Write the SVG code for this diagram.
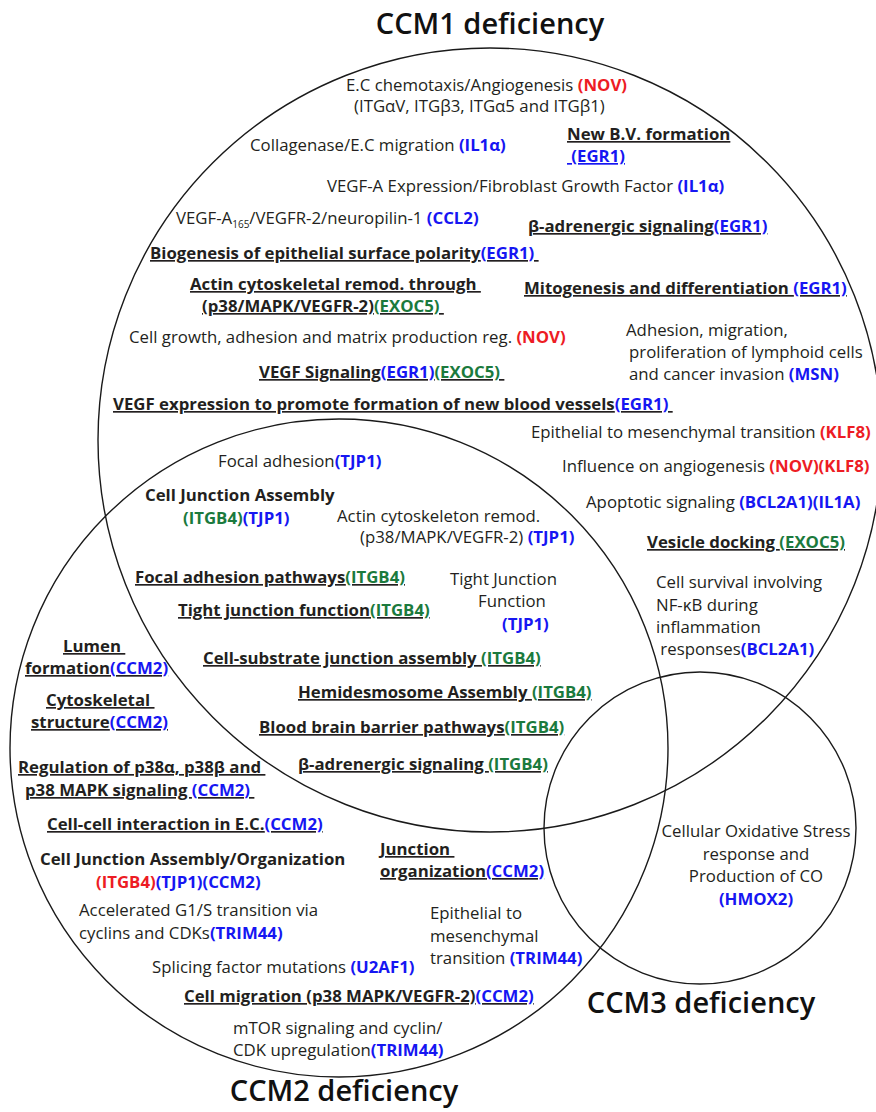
<svg xmlns="http://www.w3.org/2000/svg" width="876" height="1112" viewBox="0 0 876 1112">
  <style>
    .set { fill: none; stroke: #1a1a1a; stroke-width: 1.4; }
    .t { font-family: "Open Sans", "Liberation Sans", sans-serif; font-size: 16.8px; fill: #231f20; white-space: pre; }
    .h { font-family: "Open Sans", "Liberation Sans", sans-serif; font-size: 29px; font-weight: 600; fill: #111; text-anchor: middle; }
    .b { font-weight: 700; }
    .u { text-decoration: underline; }
    .bl { fill: #1616f2; }
    .rd { fill: #ed1c24; }
    .gr { fill: #1b7a3d; }
  </style>
  <rect width="876" height="1112" fill="#ffffff"/>

  <!-- Set outlines -->
  <g id="ccm1-set">
    <circle class="set" cx="490" cy="440" r="392"/>
    <text class="h" x="490" y="34">CCM1 deficiency</text>
  </g>
  <g id="ccm2-set">
    <circle class="set" cx="339" cy="748" r="329"/>
    <text class="h" x="344" y="1101">CCM2 deficiency</text>
  </g>
  <g id="ccm3-set">
    <circle class="set" cx="700" cy="828" r="156"/>
    <text class="h" x="701" y="1013">CCM3 deficiency</text>
  </g>

  <!-- CCM1 only -->
  <g id="ccm1-only">
    <text class="t" x="346" y="91">E.C chemotaxis/Angiogenesis <tspan class="b rd">(NOV)</tspan></text>
    <text class="t" x="354" y="112">(ITGαV, ITGβ3, ITGα5 and ITGβ1)</text>
    <text class="t" x="250" y="151">Collagenase/E.C migration <tspan class="b bl">(IL1α)</tspan></text>
    <text class="t b u" x="567" y="140">New B.V. formation</text>
    <text class="t b u bl" x="567" y="162"> (EGR1)</text>
    <text class="t" x="327" y="192">VEGF-A Expression/Fibroblast Growth Factor <tspan class="b bl">(IL1α)</tspan></text>
    <text class="t" x="176" y="224">VEGF-A<tspan font-size="10" dy="4">165</tspan><tspan dy="-4">/VEGFR-2/neuropilin-1 </tspan><tspan class="b bl">(CCL2)</tspan></text>
    <text class="t b u" x="528" y="232">β-adrenergic signaling<tspan class="bl">(EGR1)</tspan></text>
    <text class="t b u" x="150" y="259">Biogenesis of epithelial surface polarity<tspan class="bl">(EGR1) </tspan></text>
    <text class="t b u" x="190" y="290">Actin cytoskeletal remod. through </text>
    <text class="t b u" x="202" y="312">(p38/MAPK/VEGFR-2)<tspan class="gr">(EXOC5) </tspan></text>
    <text class="t b u" x="524" y="294">Mitogenesis and differentiation <tspan class="bl">(EGR1)</tspan></text>
    <text class="t" x="129" y="343">Cell growth, adhesion and matrix production reg. <tspan class="b rd">(NOV)</tspan></text>
    <text class="t" x="626" y="336">Adhesion, migration,</text>
    <text class="t" x="629" y="358">proliferation of lymphoid cells</text>
    <text class="t" x="629" y="380">and cancer invasion <tspan class="b bl">(MSN)</tspan></text>
    <text class="t b u" x="259" y="378">VEGF Signaling<tspan class="bl">(EGR1)</tspan><tspan class="gr">(EXOC5) </tspan></text>
    <text class="t b u" x="113" y="410">VEGF expression to promote formation of new blood vessels<tspan class="bl">(EGR1) </tspan></text>
    <text class="t" x="531" y="438">Epithelial to mesenchymal transition <tspan class="b rd">(KLF8)</tspan></text>
    <text class="t" x="562" y="472">Influence on angiogenesis <tspan class="b rd">(NOV)(KLF8)</tspan></text>
    <text class="t" x="586" y="508">Apoptotic signaling <tspan class="b bl">(BCL2A1)(IL1A)</tspan></text>
    <text class="t b u" x="647" y="548">Vesicle docking <tspan class="gr">(EXOC5)</tspan></text>
    <text class="t" x="656" y="588">Cell survival involving</text>
    <text class="t" x="656" y="611">NF-κB during</text>
    <text class="t" x="656" y="633">inflammation</text>
    <text class="t" x="656" y="655"> responses<tspan class="b bl">(BCL2A1)</tspan></text>
  </g>

  <!-- CCM1 and CCM2 overlap -->
  <g id="ccm1-ccm2">
    <text class="t" x="218" y="467">Focal adhesion<tspan class="b bl">(TJP1)</tspan></text>
    <text class="t b" x="145" y="501">Cell Junction Assembly</text>
    <text class="t b" x="183" y="524"><tspan class="gr">(ITGB4)</tspan><tspan class="bl">(TJP1)</tspan></text>
    <text class="t" x="337" y="522">Actin cytoskeleton remod.</text>
    <text class="t" x="360" y="543">(p38/MAPK/VEGFR-2) <tspan class="b bl">(TJP1)</tspan></text>
    <text class="t b u" x="135" y="583">Focal adhesion pathways<tspan class="gr">(ITGB4)</tspan></text>
    <text class="t" x="450" y="585">Tight Junction</text>
    <text class="t" x="478" y="607">Function</text>
    <text class="t b bl" x="502" y="630">(TJP1)</text>
    <text class="t b u" x="178" y="616">Tight junction function<tspan class="gr">(ITGB4)</tspan></text>
    <text class="t b u" x="203" y="664">Cell-substrate junction assembly <tspan class="gr">(ITGB4)</tspan></text>
    <text class="t b u" x="298" y="698">Hemidesmosome Assembly <tspan class="gr">(ITGB4)</tspan></text>
    <text class="t b u" x="259" y="733">Blood brain barrier pathways<tspan class="gr">(ITGB4)</tspan></text>
    <text class="t b u" x="298" y="770">β-adrenergic signaling <tspan class="gr">(ITGB4)</tspan></text>
  </g>

  <!-- CCM2 only -->
  <g id="ccm2-only">
    <text class="t b u" x="63" y="652">Lumen </text>
    <text class="t b u" x="25" y="674">formation<tspan class="bl">(CCM2)</tspan></text>
    <text class="t b u" x="46" y="706">Cytoskeletal </text>
    <text class="t b u" x="31" y="728">structure<tspan class="bl">(CCM2)</tspan></text>
    <text class="t b u" x="18" y="773">Regulation of p38α, p38β and </text>
    <text class="t b u" x="25" y="796">p38 MAPK signaling <tspan class="bl">(CCM2) </tspan></text>
    <text class="t b u" x="47" y="830">Cell-cell interaction in E.C.<tspan class="bl">(CCM2)</tspan></text>
    <text class="t b" x="40" y="865">Cell Junction Assembly/Organization</text>
    <text class="t b" x="96" y="888"><tspan class="rd">(ITGB4)</tspan><tspan class="bl">(TJP1)(CCM2)</tspan></text>
    <text class="t" x="79" y="916">Accelerated G1/S transition via</text>
    <text class="t" x="79" y="939">cyclins and CDKs<tspan class="b bl">(TRIM44)</tspan></text>
    <text class="t" x="152" y="973">Splicing factor mutations <tspan class="b bl">(U2AF1)</tspan></text>
    <text class="t b u" x="184" y="1002">Cell migration (p38 MAPK/VEGFR-2)<tspan class="bl">(CCM2)</tspan></text>
    <text class="t" x="233" y="1034">mTOR signaling and cyclin/</text>
    <text class="t" x="233" y="1056">CDK upregulation<tspan class="b bl">(TRIM44)</tspan></text>
    <text class="t b u" x="380" y="855">Junction </text>
    <text class="t b u" x="380" y="877">organization<tspan class="bl">(CCM2)</tspan></text>
    <text class="t" x="430" y="919">Epithelial to</text>
    <text class="t" x="430" y="942">mesenchymal</text>
    <text class="t" x="430" y="964">transition <tspan class="b bl">(TRIM44)</tspan></text>
  </g>

  <!-- CCM3 only -->
  <g id="ccm3-only">
    <text class="t" x="756" y="837" text-anchor="middle">Cellular Oxidative Stress</text>
    <text class="t" x="756" y="860" text-anchor="middle">response and</text>
    <text class="t" x="756" y="882" text-anchor="middle">Production of CO</text>
    <text class="t b bl" x="756" y="905" text-anchor="middle">(HMOX2)</text>
  </g>
</svg>
